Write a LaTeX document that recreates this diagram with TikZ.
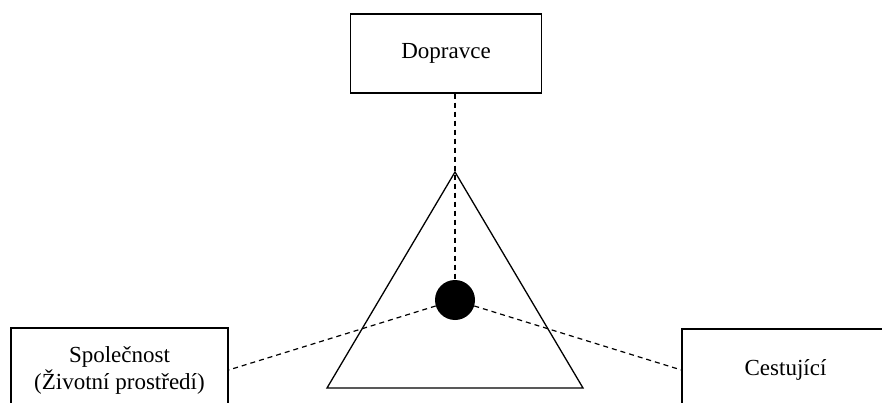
\documentclass[tikz,border=0pt]{standalone}
\usepackage{fontspec}
\setmainfont{Liberation Serif}
\begin{document}
\begin{tikzpicture}[x=1pt,y=-1pt,
  box/.style={draw=black,line width=1.3pt,fill=white,inner sep=0pt,align=center,
    font=\fontsize{23}{27}\selectfont},
  conn/.style={draw=black,line width=1.2pt,dash pattern=on 5pt off 4pt},
  tri/.style={draw=black,line width=1.3pt}]
\useasboundingbox (0,0) rectangle (882,403);
\clip (0,0) rectangle (882,403);
\node[box,minimum width=191pt,minimum height=79pt] (dop) at (446,53.5) {Dopravce};
\node[box,minimum width=217pt,minimum height=84pt] (spol) at (119.5,370) {Společnost\\(Životní prostředí)};
\node[box,minimum width=207pt,minimum height=82pt] (cest) at (785.5,370) {Cestující};
\coordinate (apex) at (455,172);
\coordinate (bl) at (327,388);
\coordinate (br) at (583,388);
\draw[tri] (apex) -- (bl) -- (br) -- cycle;
\node[circle,fill=black,minimum size=40pt,inner sep=0pt] (circ) at (455,300) {};
\draw[conn] (circ |- dop.south) -- (circ);
\draw[conn] (circ) -- (spol.east);
\draw[conn] (circ) -- (cest.west);
\end{tikzpicture}
\end{document}
